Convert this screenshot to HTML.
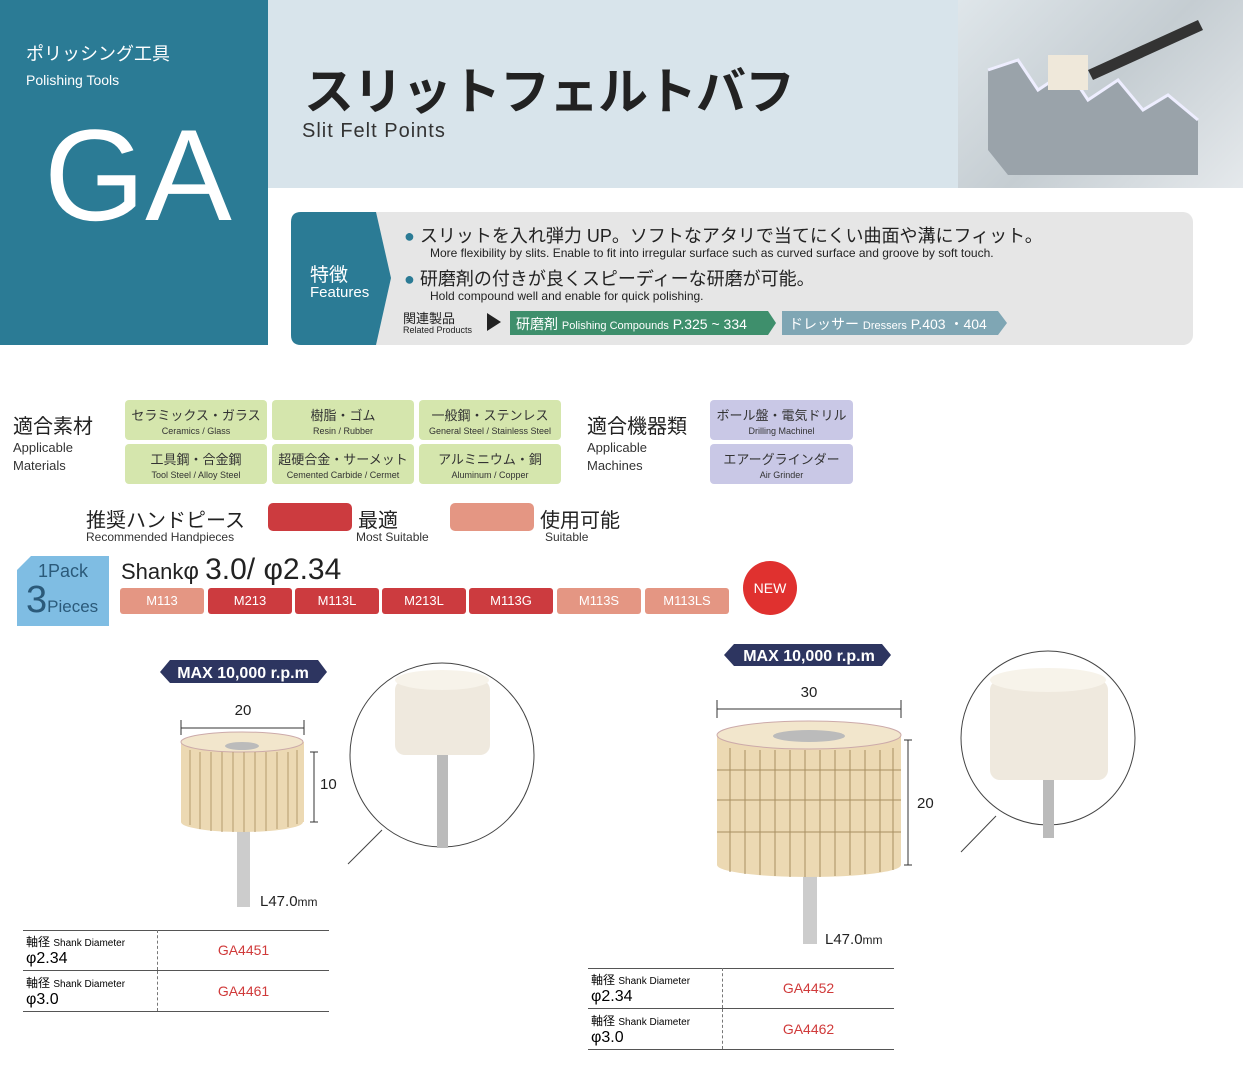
<!DOCTYPE html>
<html><head><meta charset="utf-8"><style>
body{margin:0;width:1243px;height:1075px;position:relative;background:#fff;font-family:"Liberation Sans","Noto Sans CJK JP",sans-serif;overflow:hidden}
.a{position:absolute;white-space:nowrap}
.g{position:absolute;background:#d5e6ad;border-radius:4px;text-align:center;color:#333}
.g b{display:block;font-weight:normal;font-size:13px;margin-top:5px}
.g i{display:block;font-style:normal;font-size:9px;margin-top:2px}
.p{position:absolute;background:#c9c8e6;border-radius:4px;text-align:center;color:#333}
.p b{display:block;font-weight:normal;font-size:13px;margin-top:5px}
.p i{display:block;font-style:normal;font-size:9px;margin-top:2px}
.h{position:absolute;top:588px;height:26px;width:84px;border-radius:3px;color:#fff;font-size:13px;text-align:center;line-height:26px}
.r{background:#cc3b3f}.l{background:#e49683}
table{position:absolute;border-collapse:collapse;font-size:12px}
td{border-bottom:1px solid #555;height:40px;padding:0 3px;vertical-align:middle}
</style></head><body>
<div class="a" style="left:0;top:0;width:268px;height:345px;background:#2b7b95"></div>
<div class="a" style="left:26px;top:40px;color:#fff;font-size:18px">ポリッシング工具</div>
<div class="a" style="left:26px;top:72px;color:#fff;font-size:14px">Polishing Tools</div>
<div class="a" style="left:44px;top:100px;color:#fff;font-size:130px;line-height:150px">GA</div>
<div class="a" style="left:268px;top:0;width:975px;height:188px;background:#d8e4eb"></div>
<div class="a" style="left:958px;top:0;width:285px;height:188px;background:linear-gradient(135deg,#dfe6ea,#c5cdd2 50%,#e5e9ec)"></div>
<svg class="a" style="left:958px;top:0" width="285" height="188"><path d="M30 70 L60 60 L80 90 L110 70 L130 100 L160 80 L185 110 L210 95 L240 120 L240 175 L50 175 L30 150Z" fill="#9aa3aa"/><path d="M30 70 L60 60 L80 90 L110 70 L130 100 L160 80 L185 110 L210 95 L240 120" stroke="#eef" stroke-width="3" fill="none"/><rect x="90" y="55" width="40" height="35" fill="#efe8da"/><path d="M130 70 L240 20 L245 30 L135 80Z" fill="#333"/></svg>
<div class="a" style="left:304px;top:52px;font-size:50px;font-weight:bold;color:#222;letter-spacing:-1px">スリットフェルトバフ</div>
<div class="a" style="left:302px;top:120px;font-size:20px;color:#333;letter-spacing:1px">Slit Felt Points</div>
<div class="a" style="left:291px;top:212px;width:902px;height:133px;background:#e6e6e6;border-radius:10px"></div>
<svg class="a" style="left:291px;top:212px" width="110" height="133"><path d="M10 0 H85 L100 66 L85 133 H10 Q0 133 0 123 V10 Q0 0 10 0Z" fill="#2b7b95"/></svg>
<div class="a" style="left:310px;top:260px;color:#fff;font-size:19px">特徴</div>
<div class="a" style="left:310px;top:284px;color:#fff;font-size:15px">Features</div>
<div class="a" style="left:404px;top:222px;font-size:18px;color:#222"><span style="color:#2b7b95">●</span> スリットを入れ弾力 UP。ソフトなアタリで当てにくい曲面や溝にフィット。</div>
<div class="a" style="left:430px;top:246px;font-size:12px;color:#222">More flexibility by slits. Enable to fit into irregular surface such as curved surface and groove by soft touch.</div>
<div class="a" style="left:404px;top:265px;font-size:18px;color:#222"><span style="color:#2b7b95">●</span> 研磨剤の付きが良くスピーディーな研磨が可能。</div>
<div class="a" style="left:430px;top:289px;font-size:12px;color:#222">Hold compound well and enable for quick polishing.</div>
<div class="a" style="left:403px;top:308px;font-size:13px;color:#222">関連製品</div>
<div class="a" style="left:403px;top:325px;font-size:9px;color:#222">Related Products</div>
<div class="a" style="left:487px;top:313px;border-left:14px solid #222;border-top:9px solid transparent;border-bottom:9px solid transparent"></div>
<svg class="a" style="left:510px;top:311px" width="500" height="25"><path d="M0 0H258L266 12L258 24H0Z" fill="#3e8f6c"/><path d="M272 0H488L497 12L488 24H272Z" fill="#7fa6b4"/></svg>
<div class="a" style="left:516px;top:314px;color:#fff;font-size:14px">研磨剤 <span style="font-size:11px">Polishing Compounds</span> P.325 ~ 334</div>
<div class="a" style="left:789px;top:314px;color:#fff;font-size:14px">ドレッサー <span style="font-size:11px">Dressers</span> P.403 ・404</div>

<div class="a" style="left:13px;top:410px;font-size:20px;color:#222">適合素材</div>
<div class="a" style="left:13px;top:439px;font-size:13px;color:#333;line-height:18px">Applicable<br>Materials</div>
<div class="g" style="left:125px;top:400px;width:142px;height:40px"><b>セラミックス・ガラス</b><i>Ceramics / Glass</i></div>
<div class="g" style="left:272px;top:400px;width:142px;height:40px"><b>樹脂・ゴム</b><i>Resin / Rubber</i></div>
<div class="g" style="left:419px;top:400px;width:142px;height:40px"><b>一般鋼・ステンレス</b><i>General Steel / Stainless Steel</i></div>
<div class="g" style="left:125px;top:444px;width:142px;height:40px"><b>工具鋼・合金鋼</b><i>Tool Steel / Alloy Steel</i></div>
<div class="g" style="left:272px;top:444px;width:142px;height:40px"><b>超硬合金・サーメット</b><i>Cemented Carbide / Cermet</i></div>
<div class="g" style="left:419px;top:444px;width:142px;height:40px"><b>アルミニウム・銅</b><i>Aluminum / Copper</i></div>
<div class="a" style="left:587px;top:410px;font-size:20px;color:#222">適合機器類</div>
<div class="a" style="left:587px;top:439px;font-size:13px;color:#333;line-height:18px">Applicable<br>Machines</div>
<div class="p" style="left:710px;top:400px;width:143px;height:40px"><b>ボール盤・電気ドリル</b><i>Drilling Machinel</i></div>
<div class="p" style="left:710px;top:444px;width:143px;height:40px"><b>エアーグラインダー</b><i>Air Grinder</i></div>

<div class="a" style="left:86px;top:504px;font-size:20px;color:#222">推奨ハンドピース</div>
<div class="a" style="left:86px;top:530px;font-size:12px;color:#333">Recommended Handpieces</div>
<div class="a r" style="left:268px;top:503px;width:84px;height:28px;border-radius:5px"></div>
<div class="a" style="left:358px;top:504px;font-size:20px;color:#222">最適</div>
<div class="a" style="left:356px;top:530px;font-size:12px;color:#333">Most Suitable</div>
<div class="a l" style="left:450px;top:503px;width:84px;height:28px;border-radius:5px"></div>
<div class="a" style="left:540px;top:504px;font-size:20px;color:#222">使用可能</div>
<div class="a" style="left:545px;top:530px;font-size:12px;color:#333">Suitable</div>

<svg class="a" style="left:17px;top:556px" width="92" height="70"><path d="M14 0H92V70H0V14Z" fill="#7fbde3"/></svg>
<div class="a" style="left:38px;top:561px;font-size:18px;color:#2b5a7a">1Pack</div>
<div class="a" style="left:26px;top:578px;font-size:38px;color:#2b5a7a;line-height:44px">3<span style="font-size:17px">Pieces</span></div>
<div class="a" style="left:121px;top:553px;font-size:22px;color:#222">Shank<span style="font-size:24px">φ</span> <span style="font-size:30px">3.0/ φ2.34</span></div>
<div class="h l" style="left:120px">M113</div><div class="h r" style="left:208px">M213</div><div class="h r" style="left:295px">M113L</div><div class="h r" style="left:382px">M213L</div><div class="h r" style="left:469px">M113G</div><div class="h l" style="left:557px">M113S</div><div class="h l" style="left:645px">M113LS</div>
<div class="a" style="left:743px;top:561px;width:54px;height:54px;border-radius:50%;background:#e0312f;color:#fff;font-size:14px;text-align:center;line-height:54px">NEW</div>

<svg class="a" style="left:0;top:640px" width="1243" height="320" font-family="Liberation Sans">
<path d="M170 20H318L327 32L318 43H170L160 32Z" fill="#2d3560"/>
<text x="243" y="38" fill="#fff" font-size="16" font-weight="bold" text-anchor="middle">MAX 10,000 r.p.m</text>
<path d="M734 4H882L891 15L882 26H734L724 15Z" fill="#2d3560"/>
<text x="809" y="21" fill="#fff" font-size="16" font-weight="bold" text-anchor="middle">MAX 10,000 r.p.m</text>
<text x="243" y="75" font-size="15" text-anchor="middle" fill="#222">20</text>
<path d="M181 80V95M304 80V95M181 88H304" stroke="#333"/>
<rect x="237" y="180" width="13" height="87" fill="#ccc"/>
<rect x="181" y="102" width="123" height="80" fill="#ecd9b3"/>
<ellipse cx="242" cy="102" rx="61" ry="10" fill="#f2e6cc" stroke="#caa"/>
<ellipse cx="242" cy="182" rx="61" ry="10" fill="#ecd9b3"/>
<ellipse cx="242" cy="106" rx="17" ry="4" fill="#bbb"/>
<g stroke="#b59a6e" stroke-width="1">
<path d="M190 110V185M200 112V189M211 112V191M222 112V192M233 112V192M244 112V192M255 112V192M266 112V191M277 112V189M288 112V187M297 110V184"/></g>
<path d="M310 112H318M310 182H318M314 112V182" stroke="#333"/>
<text x="320" y="149" font-size="15" fill="#222">10</text>
<text x="260" y="266" font-size="15" fill="#222">L47.0<tspan font-size="12">mm</tspan></text>
<circle cx="442" cy="115" r="92" fill="#fff" stroke="#444"/>
<path d="M382 190L348 224" stroke="#444"/>
<rect x="437" y="110" width="11" height="98" fill="#bbb"/>
<rect x="395" y="40" width="95" height="75" rx="10" fill="#efe9de"/>
<ellipse cx="442" cy="40" rx="47" ry="10" fill="#f7f3ea"/>
<text x="809" y="57" font-size="15" text-anchor="middle" fill="#222">30</text>
<path d="M717 60V78M901 60V78M717 69H901" stroke="#333"/>
<rect x="803" y="220" width="14" height="84" fill="#ccc"/>
<rect x="717" y="95" width="184" height="130" fill="#ecd9b3"/>
<ellipse cx="809" cy="95" rx="92" ry="14" fill="#f2e6cc" stroke="#caa"/>
<ellipse cx="809" cy="225" rx="92" ry="12" fill="#ecd9b3"/>
<ellipse cx="809" cy="96" rx="36" ry="6" fill="#bbb"/>
<g stroke="#a88f62"><path d="M717 130H901M717 160H901M717 192H901"/>
<path d="M730 108V232M745 110V234M760 110V235M775 110V236M790 110V237M805 110V237M820 110V237M835 110V236M850 110V235M865 110V234M880 110V232M893 108V230"/></g>
<path d="M904 100H912M904 225H912M908 100V225" stroke="#333"/>
<text x="917" y="168" font-size="15" fill="#222">20</text>
<text x="825" y="304" font-size="15" fill="#222">L47.0<tspan font-size="12">mm</tspan></text>
<circle cx="1048" cy="98" r="87" fill="#fff" stroke="#444"/>
<path d="M996 176L961 212" stroke="#444"/>
<rect x="1043" y="140" width="11" height="58" fill="#bbb"/>
<rect x="990" y="40" width="118" height="100" rx="10" fill="#efe9de"/>
<ellipse cx="1048" cy="40" rx="58" ry="12" fill="#f7f3ea"/>
</svg>

<div class="a" style="left:23px;top:930px;width:306px;border-top:1px solid #555"></div>
<table style="left:23px;top:930px;width:306px"><tr><td style="width:128px;border-right:1px dashed #777">軸径 <span style="font-size:10px">Shank Diameter</span><br><span style="font-size:16px">φ2.34</span></td><td style="text-align:center;color:#d03a3a;font-size:14px">GA4451</td></tr>
<tr><td style="border-right:1px dashed #777">軸径 <span style="font-size:10px">Shank Diameter</span><br><span style="font-size:16px">φ3.0</span></td><td style="text-align:center;color:#d03a3a;font-size:14px">GA4461</td></tr></table>
<div class="a" style="left:588px;top:968px;width:306px;border-top:1px solid #555"></div>
<table style="left:588px;top:968px;width:306px"><tr><td style="width:128px;border-right:1px dashed #777">軸径 <span style="font-size:10px">Shank Diameter</span><br><span style="font-size:16px">φ2.34</span></td><td style="text-align:center;color:#d03a3a;font-size:14px">GA4452</td></tr>
<tr><td style="border-right:1px dashed #777">軸径 <span style="font-size:10px">Shank Diameter</span><br><span style="font-size:16px">φ3.0</span></td><td style="text-align:center;color:#d03a3a;font-size:14px">GA4462</td></tr></table>
</body></html>
